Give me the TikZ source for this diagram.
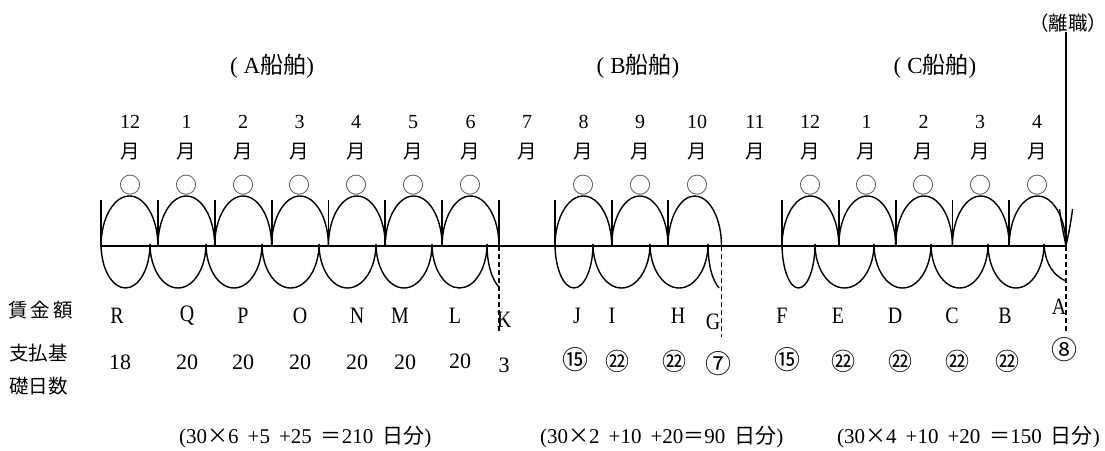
\documentclass[tikz,border=0pt]{standalone}
\usepackage{fontspec}
\setmainfont{Liberation Serif}
\newfontfamily\cjk{Noto Sans CJK JP}
\newfontfamily\narrowserif[FakeStretch=0.85]{Liberation Serif}
\usetikzlibrary{arrows.meta,calc}
\newcommand{\fgap}{\hspace{9pt}}
\begin{document}
\begin{tikzpicture}[x=1pt,y=1pt,
  axisline/.style={line width=2pt},
  tickline/.style={line width=1.8pt},
  arcline/.style={line width=1.4pt},
  dashline/.style={line width=1.8pt,dash pattern=on 5pt off 3pt},
  arrowline/.style={line width=1.5pt},
  barbline/.style={line width=1.4pt},
  mon/.style={font=\fontsize{20}{20}\selectfont,inner sep=0pt},
  tsuki/.style={font=\cjk\fontsize{19.5}{19.5}\selectfont,inner sep=0pt},
  okmark/.style={font=\cjk\fontsize{22}{22}\selectfont,inner sep=0pt,text=black!75},
  letter/.style={font=\narrowserif\fontsize{23.5}{23.5}\selectfont,inner sep=0pt},
  count/.style={font=\fontsize{22}{22}\selectfont,inner sep=0pt},
  ccount/.style={font=\cjk\fontsize{26}{26}\selectfont,inner sep=0pt},
  cwide/.style={font=\cjk\fontsize{24}{24}\selectfont,inner sep=0pt},
  title/.style={font=\fontsize{23}{23}\selectfont,inner sep=0pt},
  side/.style={font=\cjk\fontsize{19.5}{19.5}\selectfont,inner sep=0pt,anchor=west},
  formula/.style={font=\fontsize{21}{21}\selectfont,inner sep=0pt,anchor=west}
]
\useasboundingbox (0,0) rectangle (1105,450);

% tick coordinates on the axis
\foreach \n/\x in {0/101,1/157.9,2/214.7,3/271.6,4/328.4,5/385.3,6/442.1,7/499}
  \coordinate (a\n) at (\x,204);
\foreach \n/\x in {0/555,1/611.7,2/668,3/721.5}
  \coordinate (b\n) at (\x,204);
\foreach \n/\x in {0/782,1/838.8,2/895.6,3/952.4,4/1009.2,5/1066}
  \coordinate (c\n) at (\x,204);

% axis
\coordinate (axL) at (100,204);
\coordinate (axR) at (1067,204);
\draw[axisline] (axL) -- (axR);

% ticks
\foreach \t in {a0,a1,a2,a3,a4,a5,a6,a7,b0,b1,b2,c0,c1,c2,c3,c4}
  \draw[tickline] ($(\t)+(0,46)$) -- ($(\t)+(0,-1)$);

% upper arcs
\foreach \s/\e in {a0/a1,a1/a2,a2/a3,a3/a4,a4/a5,a5/a6,a6/a7,b0/b1,b1/b2,b2/b3,c0/c1,c1/c2,c2/c3,c3/c4,c4/c5}
  \draw[arcline] let \p1=(\s), \p2=(\e) in (\s) arc[start angle=180,end angle=0,x radius={(\x2-\x1)/2},y radius=50pt];

% lower arcs
\foreach \u/\v in {101/150,150/206,206/262,262/319,319/376,376/432,432/487,555/593,593/650,650/708,782/815,815/874,874/931,931/988,988/1044}
  \draw[arcline] (\u,206) arc[start angle=180,end angle=360,x radius={(\v-\u)/2},y radius=44];

% tails
\draw[arcline] (487,206) .. controls (487,186) and (492,170) .. (499,163);
\draw[arcline] (708,206) .. controls (708,186) and (712,170) .. (719,162);
\draw[arcline] (1044,206) .. controls (1045,186) and (1054,174) .. (1066,169);

% dashed lines
\coordinate (dA) at (499,117);
\coordinate (dB) at (721.5,113);
\coordinate (dC) at (1066,117);
\draw[dashline] (a7) -- (dA);
\draw[dashline] (b3) -- (dB);
\draw[dashline] (c5) -- (dC);

% resignation arrow
\node[font=\cjk\fontsize{19.5}{19.5}\selectfont,inner sep=0pt] (rishoku) at (1068,427) {（離職）};
\draw[arrowline] (rishoku.south -| c5) -- (c5);
\draw[barbline] (1059.5,241) .. controls (1061,227) and (1064,214) .. (c5)
                .. controls (1068,214) and (1071,227) .. (1072.5,241);

% titles
\node[title] (tA) at (272,384) {(\hspace{6pt}A{\cjk 船舶})};
\node[title] (tB) at (638,384) {(\hspace{6pt}B{\cjk 船舶})};
\node[title] (tC) at (935,384) {(\hspace{6pt}C{\cjk 船舶})};

% months
\foreach \x/\m [count=\i] in {130/12,186.5/1,243/2,299.5/3,356/4,413/5,470.5/6,527/7,583.5/8,640/9,697/10,755/11,810/12,866.5/1,923.5/2,980/3,1037/4} {
  \node[mon] (mn\i) at (\x,328) {\m};
  \node[tsuki] (mt\i) at (\x,298) {月};
}
% circles
\foreach \x [count=\i] in {130,186.5,243,299.5,356,413,470.5,583.5,640,697,810,866.5,923.5,980,1037}
  \node[okmark] (ok\i) at (\x,265) {○};

% side labels
\node[side] (s1) at (8,140) {賃\hspace{3pt}金\hspace{3pt}額};
\node[side] (s2) at (9,97) {支払基};
\node[side] (s3) at (9,64) {礎日数};

% letters
\node[letter] (lR) at (117,134) {R};
\node[letter] (lQ) at (187,134) {Q};
\node[letter] (lP) at (243,134) {P};
\node[letter] (lO) at (300,134) {O};
\node[letter] (lN) at (357,134) {N};
\node[letter] (lM) at (400,134) {M};
\node[letter] (lL) at (455,134) {L};
\node[letter] (lK) at (504,130) {K};
\node[letter] (lJ) at (577,134) {J};
\node[letter] (lI) at (612,134) {I};
\node[letter] (lH) at (678,134) {H};
\node[letter] (lG) at (713,128) {G};
\node[letter] (lF) at (782,134) {F};
\node[letter] (lE) at (838,134) {E};
\node[letter] (lD) at (895,134) {D};
\node[letter] (lC) at (952,134) {C};
\node[letter] (lB) at (1005,134) {B};
\node[letter] (lA) at (1059,143) {A};

% counts
\node[count] (n1) at (120,88) {18};
\node[count] (n2) at (187,88) {20};
\node[count] (n3) at (243,88) {20};
\node[count] (n4) at (300,88) {20};
\node[count] (n5) at (357,88) {20};
\node[count] (n6) at (405,88) {20};
\node[count] (n7) at (460,89) {20};
\node[count] (n8) at (504,85) {3};
\node[ccount] (n9) at (575,90) {⑮};
\node[cwide] (n10) at (617,89) {㉒};
\node[cwide] (n11) at (674,89) {㉒};
\node[ccount] (n12) at (718,86) {⑦};
\node[ccount] (n13) at (787,90) {⑮};
\node[cwide] (n14) at (843,89) {㉒};
\node[cwide] (n15) at (900,89) {㉒};
\node[cwide] (n16) at (957,89) {㉒};
\node[cwide] (n17) at (1007,89) {㉒};
\node[ccount] (n18) at (1064,100) {⑧};

% formulas
\node[formula] (f1) at (179,13) {(30{\cjk ×}6\fgap+5\fgap+25\fgap{\cjk ＝}210\fgap{\cjk 日分})};
\node[formula] (f2) at (540,13) {(30{\cjk ×}2\fgap+10\fgap+20{\cjk ＝}90\fgap{\cjk 日分})};
\node[formula] (f3) at (837,13) {(30{\cjk ×}4\fgap+10\fgap+20\fgap{\cjk ＝}150\fgap{\cjk 日分})};
\end{tikzpicture}
\end{document}
